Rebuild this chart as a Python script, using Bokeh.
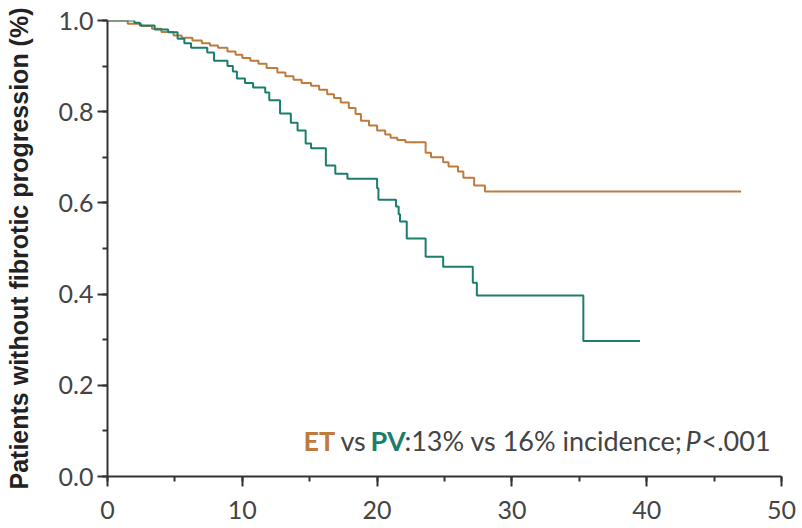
from bokeh.plotting import figure
from bokeh.models import Label, SingleIntervalTicker, PrintfTickFormatter, Range1d
from bokeh.embed import file_html
from bokeh.resources import INLINE

# Kaplan-Meier style step data (time in months, proportion without progression)
et_time = [0, 1.5, 2.5, 3.3, 4.0, 4.9, 5.5, 6.3, 7.0, 7.6, 8.2, 8.9, 9.5, 10.0, 10.6,
           11.2, 11.8, 12.6, 13.2, 13.8, 14.4, 15.1, 15.7, 16.3, 16.8, 17.3, 17.9,
           18.4, 18.8, 19.4, 20.0, 20.6, 21.0, 21.5, 22.1, 23.6, 24.0, 24.9, 25.3,
           26.0, 26.4, 27.2, 28.0, 47.0]
et_surv = [1.0, 0.993, 0.988, 0.982, 0.975, 0.967, 0.962, 0.956, 0.95, 0.945, 0.94,
           0.932, 0.925, 0.918, 0.912, 0.905, 0.896, 0.886, 0.878, 0.87, 0.863, 0.857,
           0.848, 0.838, 0.83, 0.82, 0.808, 0.795, 0.78, 0.77, 0.759, 0.75, 0.743,
           0.738, 0.733, 0.71, 0.70, 0.689, 0.68, 0.669, 0.655, 0.638, 0.625, 0.625]

pv_time = [0, 2.0, 2.4, 3.5, 4.5, 5.2, 5.7, 6.2, 7.4, 7.9, 8.9, 9.3, 9.6, 10.2, 10.8,
           11.7, 12.0, 12.8, 13.6, 14.1, 14.7, 15.1, 16.2, 16.9, 17.8, 20.0, 20.1,
           21.4, 21.6, 21.7, 22.2, 23.6, 24.9, 27.1, 27.4, 35.3, 39.5]
pv_surv = [1.0, 0.995, 0.989, 0.98, 0.974, 0.96, 0.95, 0.94, 0.93, 0.912, 0.9, 0.888,
           0.873, 0.863, 0.853, 0.842, 0.825, 0.796, 0.776, 0.759, 0.73, 0.72, 0.682,
           0.664, 0.653, 0.632, 0.607, 0.592, 0.575, 0.559, 0.522, 0.482, 0.46, 0.425,
           0.397, 0.297, 0.297]

x_ticks_interval = 10
y_ticks_interval = 0.2

ET_COLOR = "#bf7a3c"
PV_COLOR = "#1b7e6c"
AXIS_COLOR = "#333333"
TEXT_COLOR = "#444444"

p = figure(width=796, height=528, output_backend="svg", toolbar_location=None,
           x_range=Range1d(0, 50), y_range=Range1d(0, 1.0),
           min_border_left=107, min_border_right=15, min_border_top=20,
           min_border_bottom=52)
p.outline_line_color = None
p.xgrid.visible = False
p.ygrid.visible = False
p.background_fill_color = "white"

p.step(et_time, et_surv, mode="after", line_color=ET_COLOR, line_width=2)
p.step(pv_time, pv_surv, mode="after", line_color=PV_COLOR, line_width=2)

p.xaxis.ticker = SingleIntervalTicker(interval=x_ticks_interval, num_minor_ticks=2)
p.yaxis.ticker = SingleIntervalTicker(interval=y_ticks_interval, num_minor_ticks=2)
p.yaxis.formatter = PrintfTickFormatter(format="%.1f")

for ax in (p.xaxis, p.yaxis):
    ax.axis_line_color = AXIS_COLOR
    ax.axis_line_width = 2
    ax.major_tick_line_color = AXIS_COLOR
    ax.major_tick_line_width = 2
    ax.minor_tick_line_color = AXIS_COLOR
    ax.minor_tick_line_width = 2
    ax.major_tick_out = 10
    ax.major_tick_in = 0
    ax.minor_tick_out = 5
    ax.minor_tick_in = 0
    ax.major_label_text_font = "Lato"
    ax.major_label_text_font_size = "25px"
    ax.major_label_text_color = TEXT_COLOR

p.xaxis.major_label_standoff = 14
p.yaxis.major_label_standoff = 4

p.yaxis.axis_label = "Patients without fibrotic progression (%)"
p.yaxis.axis_label_text_font = "Liberation Sans"
p.yaxis.axis_label_text_font_style = "bold"
p.yaxis.axis_label_text_font_size = "25px"
p.yaxis.axis_label_text_color = "#222222"
p.yaxis.axis_label_standoff = 23

base_y = 0.079
segments = [
    (14.54, "ET", ET_COLOR, "bold"),
    (17.28, "vs", TEXT_COLOR, "normal"),
    (19.51, "PV", PV_COLOR, "bold"),
    (22.03, ":13% vs 16% incidence;", TEXT_COLOR, "normal"),
    (42.88, "P", TEXT_COLOR, "italic"),
    (44.07, "<.001", TEXT_COLOR, "normal"),
]
for sx, txt, col, style in segments:
    p.add_layout(Label(x=sx, y=base_y, text=txt, text_color=col,
                       text_font="Lato", text_font_size="27px",
                       text_font_style=style, text_baseline="alphabetic",
                       text_align="left"))

open("out.html", "w").write(file_html(p, INLINE))
